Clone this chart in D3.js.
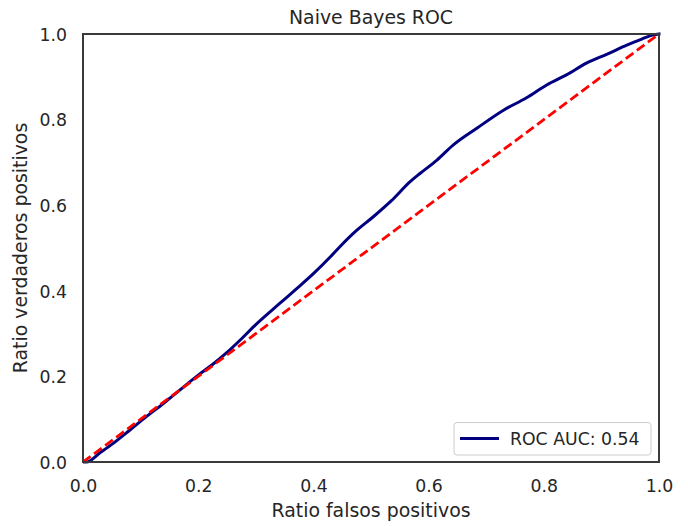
<!DOCTYPE html>
<html>
<head>
<meta charset="utf-8">
<script src="https://cdn.jsdelivr.net/npm/d3@7"></script>
<style>
  html, body { margin: 0; padding: 0; background: #ffffff; }
  svg { display: block; font-family: "DejaVu Sans", sans-serif; }
</style>
</head>
<body>
<svg id="chart" width="688" height="526"></svg>
<script>
// ---- data ----
const title = "Naive Bayes ROC";
const xLabel = "Ratio falsos positivos";
const yLabel = "Ratio verdaderos positivos";
const legendLabel = "ROC AUC: 0.54";
const xTicks = [0, 0.2, 0.4, 0.6, 0.8, 1.0];
const yTicks = [0, 0.2, 0.4, 0.6, 0.8, 1.0];
const fpr = [0, 0.006, 0.03, 0.053, 0.08, 0.11, 0.14, 0.168, 0.2, 0.226, 0.25, 0.273, 0.3, 0.342, 0.37, 0.40, 0.43, 0.446, 0.475, 0.504, 0.535, 0.568, 0.585, 0.615, 0.643, 0.685, 0.730, 0.77, 0.805, 0.84, 0.874, 0.91, 0.944, 0.97, 0.99, 1.0];
const tpr = [0, 0.0, 0.022, 0.044, 0.073, 0.106, 0.137, 0.168, 0.203, 0.229, 0.256, 0.285, 0.321, 0.371, 0.404, 0.44, 0.48, 0.503, 0.541, 0.573, 0.61, 0.655, 0.674, 0.706, 0.741, 0.781, 0.822, 0.851, 0.881, 0.905, 0.932, 0.953, 0.974, 0.988, 0.998, 1.0];
const chanceX = [0, 1];
const chanceY = [0, 1];

// ---- layout ----
const svg = d3.select("#chart");
const L = 83, R = 659, T = 34, B = 462;
const textColor = "#262626";

const x = d3.scaleLinear().domain([0, 1]).range([L, R]);
const y = d3.scaleLinear().domain([0, 1]).range([B, T]);

svg.append("rect").attr("width", 688).attr("height", 526).attr("fill", "#fff");

svg.append("defs").append("clipPath").attr("id", "clip")
  .append("rect").attr("x", L).attr("y", T - 2).attr("width", R - L + 2).attr("height", B - T + 4);

const line = d3.line().x(d => x(d[0])).y(d => y(d[1])).curve(d3.curveMonotoneX);
const straight = d3.line().x(d => x(d[0])).y(d => y(d[1]));

const g = svg.append("g").attr("clip-path", "url(#clip)");
g.append("path")
  .datum(fpr.map((v, i) => [v, tpr[i]]))
  .attr("d", line)
  .attr("fill", "none")
  .attr("stroke", "#000080")
  .attr("stroke-width", 3)
  .attr("stroke-linejoin", "round")
  .attr("stroke-linecap", "square");

g.append("path")
  .datum(chanceX.map((v, i) => [v, chanceY[i]]))
  .attr("d", straight)
  .attr("fill", "none")
  .attr("stroke", "#ff0000")
  .attr("stroke-width", 2.8)
  .attr("stroke-dasharray", "9.5,4.3");

const xAxis = d3.axisBottom(x).tickValues(xTicks).tickFormat(d3.format(".1f")).tickSize(0).tickPadding(18);
const yAxis = d3.axisLeft(y).tickValues(yTicks).tickFormat(d3.format(".1f")).tickSize(0).tickPadding(16);

const gx = svg.append("g").attr("transform", `translate(0,${B})`).call(xAxis);
const gy = svg.append("g").attr("transform", `translate(${L},0)`).call(yAxis);
[gx, gy].forEach(a => {
  a.select(".domain").remove();
  a.selectAll("text").attr("fill", textColor).style("font-size", "17.3px").style("font-family", "'DejaVu Sans', sans-serif");
});
gx.selectAll("text").attr("dy", "0.71em").attr("y", 18);
gy.selectAll("text").attr("dy", "0.36em");

svg.append("rect")
  .attr("x", L).attr("y", T).attr("width", R - L).attr("height", B - T)
  .attr("fill", "none").attr("stroke", "#3a3a3a").attr("stroke-width", 2);

svg.append("text").attr("x", (L + R) / 2).attr("y", 24)
  .attr("text-anchor", "middle").attr("fill", textColor)
  .style("font-size", "18.9px").text(title);

svg.append("text").attr("x", (L + R) / 2).attr("y", 517)
  .attr("text-anchor", "middle").attr("fill", textColor)
  .style("font-size", "18.9px").text(xLabel);

svg.append("text").attr("transform", `translate(27,${(T + B) / 2}) rotate(-90)`)
  .attr("text-anchor", "middle").attr("fill", textColor)
  .style("font-size", "18.9px").text(yLabel);

const lg = svg.append("g");
lg.append("rect").attr("x", 454).attr("y", 422.5).attr("width", 197).attr("height", 32.5)
  .attr("rx", 3).attr("ry", 3)
  .attr("fill", "#fff").attr("fill-opacity", 0.8)
  .attr("stroke", "#cccccc").attr("stroke-width", 1);
lg.append("line").attr("x1", 460).attr("x2", 499).attr("y1", 438.5).attr("y2", 438.5)
  .attr("stroke", "#000080").attr("stroke-width", 3);
lg.append("text").attr("x", 510).attr("y", 438.5).attr("dy", "0.36em")
  .attr("fill", textColor).style("font-size", "17.3px").text(legendLabel);
</script>
</body>
</html>
